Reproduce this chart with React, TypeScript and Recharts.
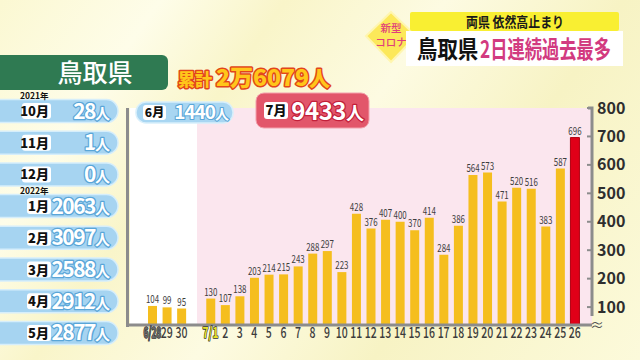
import React from "react";
import { BarChart, Bar, XAxis, YAxis, Cell, LabelList } from "recharts";

const dates = ["6/28", "29", "30", "", "7/1", "2", "3", "4", "5", "6", "7", "8", "9", "10", "11", "12", "13", "14", "15", "16", "17", "18", "19", "20", "21", "22", "23", "24", "25", "26"];
const cases: (number | null)[] = [104, 99, 95, null, 130, 107, 138, 203, 214, 215, 243, 288, 297, 223, 428, 376, 407, 400, 370, 414, 284, 386, 564, 573, 471, 520, 516, 383, 587, 696];
const yTicks = [100, 200, 300, 400, 500, 600, 700, 800];
const months = ["10月", "11月", "12月", "1月", "2月", "3月", "4月", "5月"];
const monthTotals = ["28", "1", "0", "2063", "3097", "2588", "2912", "2877"];
const junLabel = "6月";
const junTotal = "1440";
const julLabel = "7月";
const julTotal = "9433";
const cumulative = "2万6079";

const data = dates.map((d, i) => ({ date: d, value: cases[i] }));
const lastIndex = data.length - 1;

const JP = "'Noto Sans CJK JP', 'Noto Sans', sans-serif";
const GOLD = "#F5BE1E";
const RED = "#E00018";

const XTick = (props: any) => {
  const { x, y, payload } = props;
  const v = payload.value as string;
  const special = v === "6/28" || v === "7/1";
  if (special) {
    const sx = v === "6/28" ? 0.55 : 0.68;
    return (
      <g transform={`translate(${x},${y}) scale(${sx},1)`}>
        <text
          x={0}
          y={0}
          dy={11}
          textAnchor="middle"
          fontSize={15}
          fontFamily={JP}
          fontWeight={700}
          fill={v === "7/1" ? "#E8E428" : "#6a6a6a"}
          stroke="#333"
          strokeWidth={1.6}
          strokeLinejoin="round"
          paintOrder="stroke"
        >
          {v}
        </text>
      </g>
    );
  }
  return (
    <g transform={`translate(${x},${y}) scale(0.7,1)`}>
      <text x={0} y={0} dy={11} textAnchor="middle" fontSize={15} fontFamily={JP} fontWeight={500} fill="#3c3c3c">
        {v}
      </text>
    </g>
  );
};

const YTick = (props: any) => {
  const { x, y, payload } = props;
  return (
    <g>
      <line x1={x - 5} x2={x} y1={y} y2={y} stroke="#8c8c8c" strokeWidth={2} />
      <text x={x + 5} y={y} dy={5.5} fontSize={16} fontWeight={700} fontFamily={JP} fill="#2e2e2e">
        {payload.value}
      </text>
    </g>
  );
};

const BarLabel = (props: any) => {
  const { x, y, width, value, index } = props;
  if (value == null) return null;
  const cx = x + width / 2;
  return (
    <g transform={`translate(${cx},${y - 3}) scale(0.72,1)`}>
      <text x={0} y={0} textAnchor="middle" fontSize={11} fontFamily={JP} fill={index === lastIndex ? "#D8102A" : "#3e3e3e"}>
        {value}
      </text>
    </g>
  );
};

const rowY = (i: number) => 111 + i * 31.7;

export default function App() {
  return (
    <div
      style={{
        position: "absolute",
        left: 0,
        top: 0,
        width: 640,
        height: 360,
        overflow: "hidden",
        background:
          "linear-gradient(125deg, #fbf8d2 0%, #fefde9 18%, #f9f5c9 32%, #fdfbe2 50%, #f7f3c4 70%, #fcfadb 100%)",
      }}
    >
      {/* plot backgrounds */}
      <div style={{ position: "absolute", left: 130, top: 108, width: 67, height: 217, background: "#ffffff" }} />
      <div style={{ position: "absolute", left: 197, top: 108, width: 395, height: 217, background: "#FBE6EE" }} />
      <div style={{ position: "absolute", left: 126, top: 108, width: 3, height: 219, background: "#8c8c8c" }} />

      <div style={{ position: "absolute", left: 0, top: 0 }}>
        <BarChart width={640} height={360} data={data} margin={{ top: 108, right: 0, bottom: 0, left: 128 }} barCategoryGap={0}>
          <XAxis
            dataKey="date"
            interval={0}
            height={35}
            padding={{ left: 17, right: 10 }}
            axisLine={{ stroke: "#8c8c8c", strokeWidth: 3 }}
            tickLine={false}
            tickSize={0}
            tickMargin={2}
            tick={<XTick />}
          />
          <YAxis
            orientation="right"
            width={48}
            domain={[37, 800]}
            ticks={yTicks}
            allowDataOverflow
            axisLine={false}
            tickLine={false}
            tickSize={0}
            tickMargin={0}
            tick={<YTick />}
          />
          <Bar dataKey="value" barSize={9} isAnimationActive={false}>
            {data.map((d, i) => (
              <Cell key={i} fill={i === lastIndex ? RED : GOLD} stroke={i === lastIndex ? "#B00010" : "none"} />
            ))}
            <LabelList dataKey="value" content={<BarLabel />} />
          </Bar>
        </BarChart>
      </div>

      {/* overlay decorations and texts */}
      <svg width={640} height={360} style={{ position: "absolute", left: 0, top: 0, pointerEvents: "none" }} fontFamily={JP}>
        {/* right axis line with break */}
        <path d="M588,108 L592,108 L592,316" fill="none" stroke="#8c8c8c" strokeWidth={3} />
        <text x={597} y={330} fontSize={14} fill="#555" textAnchor="middle">≈</text>

        {/* header */}
        <polygon points="391,12 416,36 391,62 366,36" fill="#FCE85A" stroke="#FFF6B0" strokeWidth={2} />
        <text x={391} y={32} textAnchor="middle" fontSize={10.5} fill="#E0407A" fontWeight={500}>新型</text>
        <text x={391} y={46} textAnchor="middle" fontSize={10.5} fill="#E0407A" fontWeight={500}>コロナ</text>
        <rect x={410} y={12} width={209} height={19} rx={2} fill="#F9EF32" />
        <g transform="translate(515,27) scale(0.85,1)">
          <text x={0} y={0} textAnchor="middle" fontSize={14} fontWeight={700} fill="#1a1a1a">両県 依然高止まり</text>
        </g>
        <rect x={406} y={31} width={217} height={35} fill="#ffffff" />
        <g transform="translate(417,58) scale(0.85,1)">
          <text x={0} y={0} fontSize={24} fontWeight={700} fill="#111">鳥取県</text>
        </g>
        <g transform="translate(480,58) scale(0.72,1)">
          <text x={0} y={0} fontSize={24} fontWeight={700} fill="#D23A80">2日連続過去最多</text>
        </g>

        {/* prefecture title */}
        <rect x={-10} y={55} width={178} height={35} rx={6} fill="#2F7A52" />
        <text x={95} y={82} textAnchor="middle" fontSize={25} fontWeight={500} fill="#ffffff">鳥取県</text>
        <text x={178} y={86} fontSize={17} fontWeight={900} fill="#FFC61A" stroke="#E2461B" strokeWidth={3} strokeLinejoin="round" paintOrder="stroke">
          累計 <tspan fontSize={23}>{cumulative}</tspan><tspan fontSize={21}>人</tspan>
        </text>

        {/* monthly totals */}
        {months.map((m, i) => {
          const cy = rowY(i);
          const bw = m.length >= 3 ? 29 : 24;
          return (
            <g key={m}>
              <rect x={-14} y={cy - 11.5} width={132} height={23} rx={11.5} fill="#A6D4F1" stroke="#D6EEFB" strokeWidth={1.5} />
              <rect x={51 - bw} y={cy - 8} width={bw} height={16} rx={3} fill="#ffffff" />
              <text x={49} y={cy + 5} textAnchor="end" fontSize={13} fontWeight={900} fill="#111">{m}</text>
              <text x={110} y={cy + 7.5} textAnchor="end" fontSize={21} fontWeight={700} fill="#ffffff" stroke="#5AA6D8" strokeWidth={2.5} strokeLinejoin="round" paintOrder="stroke" letterSpacing={-1.5}>
                {monthTotals[i]}<tspan fontSize={15} letterSpacing={0}>人</tspan>
              </text>
            </g>
          );
        })}
        <text x={20} y={98.5} fontSize={8.5} fontWeight={700} fill="#111">2021年</text>
        <text x={20} y={193.5} fontSize={8.5} fontWeight={700} fill="#111">2022年</text>

        {/* June box */}
        <rect x={136} y={102} width={97} height={21} rx={10} fill="#A8D6F2" stroke="#D8EFFB" strokeWidth={1.5} />
        <rect x={143} y={105} width={23} height={15} rx={3} fill="#ffffff" />
        <text x={154.5} y={117} textAnchor="middle" fontSize={12} fontWeight={900} fill="#111">{junLabel}</text>
        <text x={229} y={119} textAnchor="end" fontSize={19} fontWeight={700} fill="#ffffff" stroke="#5AA6D8" strokeWidth={2.2} strokeLinejoin="round" paintOrder="stroke" letterSpacing={-1}>
          {junTotal}<tspan fontSize={14} letterSpacing={0}>人</tspan>
        </text>

        {/* July box */}
        <rect x={256} y={93} width={113} height={35} rx={8} fill="#E2566A" stroke="#F3A0AC" strokeWidth={1} />
        <rect x={264} y={102} width={24} height={17} rx={3} fill="#ffffff" />
        <text x={276} y={115} textAnchor="middle" fontSize={13} fontWeight={900} fill="#111">{julLabel}</text>
        <text x={364} y={120} textAnchor="end" fontSize={24} fontWeight={700} fill="#ffffff" stroke="#C3203A" strokeWidth={2.5} strokeLinejoin="round" paintOrder="stroke" letterSpacing={-0.5}>
          {julTotal}<tspan fontSize={18} letterSpacing={0}>人</tspan>
        </text>
      </svg>
    </div>
  );
}
